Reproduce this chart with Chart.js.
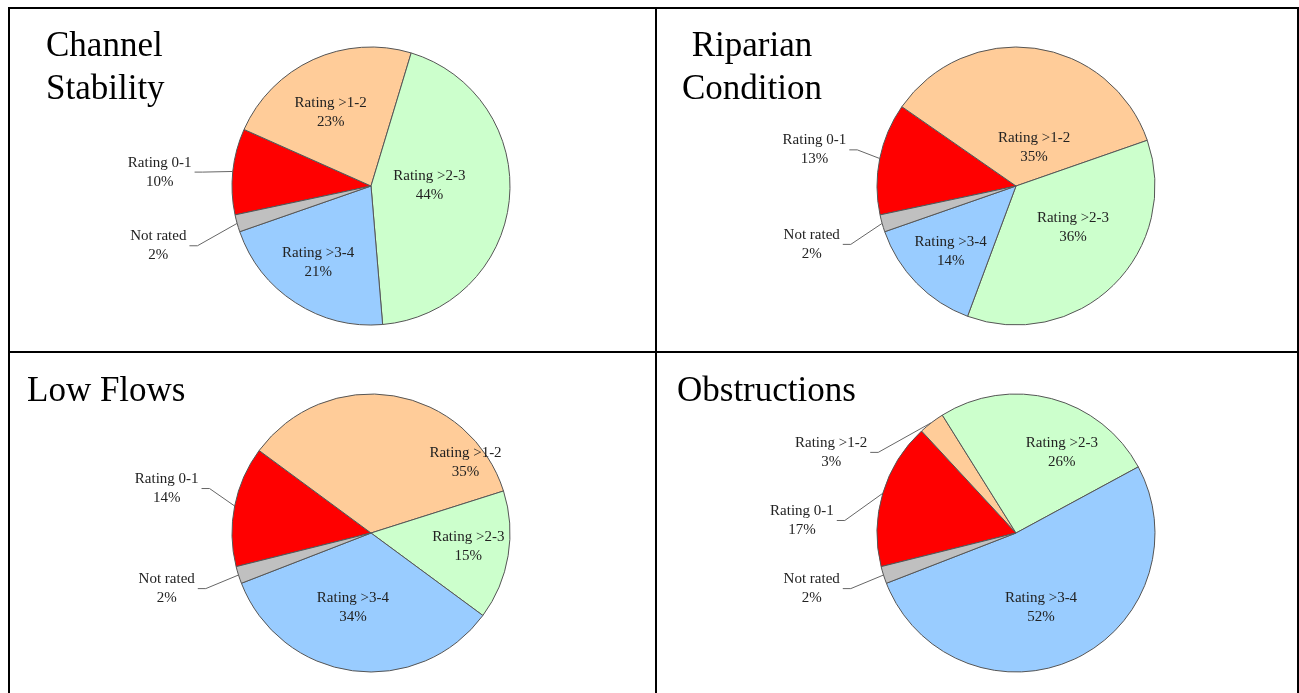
<!DOCTYPE html>
<html>
<head>
<meta charset="utf-8">
<script src="https://cdn.jsdelivr.net/npm/chart.js@4/dist/chart.umd.min.js"></script>
<style>
  body { margin: 0; background: #fff; width: 1299px; height: 693px; position: relative; overflow: hidden; font-family: "Liberation Serif", "Times New Roman", serif; }
  canvas { position: absolute; }
  .rule { position: absolute; background: #000; }
  .title { position: absolute; font-size: 35px; line-height: 43px; color: #000; white-space: nowrap; }
</style>
</head>
<body>
<div class="rule" style="left:8px;top:7px;width:1291px;height:2px"></div>
<div class="rule" style="left:8px;top:7px;width:2px;height:686px"></div>
<div class="rule" style="left:655px;top:7px;width:2px;height:686px"></div>
<div class="rule" style="left:1297px;top:7px;width:2px;height:686px"></div>
<div class="rule" style="left:8px;top:351px;width:1291px;height:2px"></div>

<canvas id="c1" width="645" height="342" style="left:10px;top:9px"></canvas>
<canvas id="c2" width="640" height="342" style="left:657px;top:9px"></canvas>
<canvas id="c3" width="645" height="340" style="left:10px;top:353px"></canvas>
<canvas id="c4" width="640" height="340" style="left:657px;top:353px"></canvas>

<div class="title" style="left:46px;top:23px">Channel<br>Stability</div>
<div class="title" style="left:682px;top:23px;width:140px;text-align:center">Riparian<br>Condition</div>
<div class="title" style="left:27px;top:368px">Low Flows</div>
<div class="title" style="left:677px;top:368px">Obstructions</div>

<script>
const categories = ["Rating 0-1", "Rating >1-2", "Rating >2-3", "Rating >3-4", "Not rated"];
const channelStability = [10, 23, 44, 21, 2];
const riparianCondition = [13, 35, 36, 14, 2];
const lowFlows = [14, 35, 15, 34, 2];
const obstructions = [17, 3, 26, 52, 2];

const sliceColors = ["#ff0000", "#ffcc99", "#ccffcc", "#99ccff", "#c0c0c0"];

// where each label sits, in pie radii from the centre; third item = leader line
const spots1 = [[-1.52, -0.10, true], [-0.29, -0.53], [0.42, 0.0], [-0.38, 0.55], [-1.53, 0.43, true]];
const spots2 = [[-1.45, -0.26, true], [0.13, -0.28], [0.41, 0.30], [-0.47, 0.47], [-1.47, 0.42, true]];
const spots3 = [[-1.47, -0.32, true], [0.68, -0.51], [0.70, 0.10], [-0.13, 0.54], [-1.47, 0.40, true]];
const spots4 = [[-1.54, -0.09, true], [-1.33, -0.58, true], [0.33, -0.58], [0.18, 0.54], [-1.47, 0.40, true]];

const sliceLabels = {
  id: "sliceLabels",
  afterDatasetsDraw(chart, args, opts) {
    const ctx = chart.ctx;
    const meta = chart.getDatasetMeta(0);
    const values = chart.data.datasets[0].data;
    ctx.save();
    ctx.font = "15px 'Liberation Serif'";
    ctx.textAlign = "center";
    ctx.textBaseline = "middle";
    meta.data.forEach((arc, i) => {
      const spot = opts.spots[i];
      const r = arc.outerRadius;
      const lx = arc.x + spot[0] * r;
      const ly = arc.y + spot[1] * r;
      if (spot[2]) {
        const mid = (arc.startAngle + arc.endAngle) / 2;
        const ex = arc.x + Math.cos(mid) * r;
        const ey = arc.y + Math.sin(mid) * r;
        const w = ctx.measureText(chart.data.labels[i]).width;
        const sx = lx + w / 2 + 3;
        ctx.strokeStyle = "#666";
        ctx.lineWidth = 1;
        ctx.beginPath();
        ctx.moveTo(sx, ly);
        ctx.lineTo(sx + 8, ly);
        ctx.lineTo(ex, ey);
        ctx.stroke();
      }
      ctx.fillStyle = "#222";
      ctx.fillText(chart.data.labels[i], lx, ly - 9.5);
      ctx.fillText(values[i] + "%", lx, ly + 9.5);
    });
    ctx.restore();
  }
};

function makePie(id, values, spots, pad, rotation) {
  return new Chart(document.getElementById(id), {
    type: "pie",
    data: {
      labels: categories,
      datasets: [{
        data: values,
        backgroundColor: sliceColors,
        borderColor: "#555",
        borderWidth: 1
      }]
    },
    options: {
      responsive: false,
      animation: false,
      devicePixelRatio: 1,
      rotation: rotation,
      radius: 139,
      layout: { padding: pad },
      plugins: {
        legend: { display: false },
        tooltip: { enabled: false },
        sliceLabels: { spots: spots }
      }
    },
    plugins: [sliceLabels]
  });
}

makePie("c1", channelStability, spots1, { left: 77, top: 12, right: 0, bottom: 0 }, 258);
makePie("c2", riparianCondition, spots2, { left: 78, top: 12, right: 0, bottom: 0 }, 258);
makePie("c3", lowFlows, spots3, { left: 77, top: 20, right: 0, bottom: 0 }, 256);
makePie("c4", obstructions, spots4, { left: 78, top: 20, right: 0, bottom: 0 }, 256);
</script>
</body>
</html>
